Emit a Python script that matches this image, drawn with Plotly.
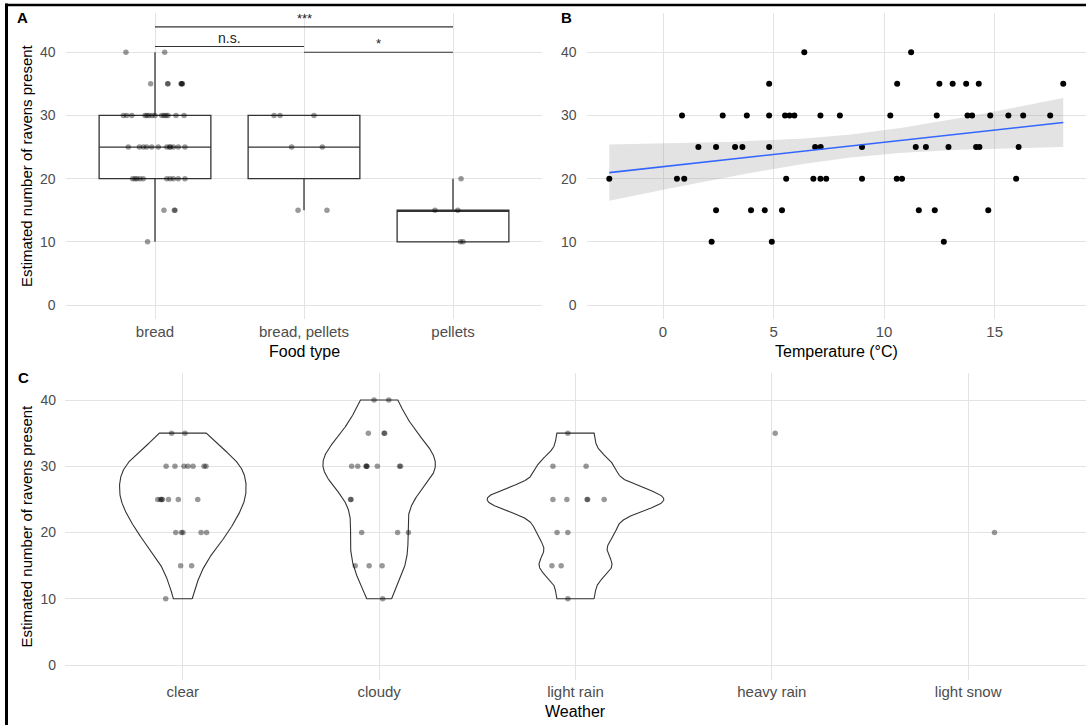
import numpy as np
import plotly.graph_objects as go

W, H = 1086, 725
FONT = "Liberation Sans, Arial, sans-serif"
TICK_GREY = "#4D4D4D"
GRID = "#E3E3E3"
INK = "#333333"
DOT = "rgba(0,0,0,0.4)"

# ---------------- Panel A: ravens counted per food type ----------------
food_types = ["bread", "bread, pellets", "pellets"]

bread_counts = [40, 40,
                35, 35, 35, 35, 35, 35, 35,
                30, 30, 30, 30, 30, 30, 30, 30, 30, 30, 30, 30, 30, 30,
                25, 25, 25, 25, 25, 25, 25, 25, 25, 25, 25, 25,
                20, 20, 20, 20, 20, 20, 20, 20, 20, 20,
                15, 15, 15,
                10]
bread_jitter = [-0.195, 0.065,
                -0.029, 0.085, 0.087, 0.175, 0.178, 0.181, 0.184,
                -0.212, -0.190, -0.156, -0.067, -0.054, -0.040, -0.020, 0.000,
                0.045, 0.060, 0.074, 0.087, 0.141, 0.195,
                -0.179, -0.105, -0.078, -0.056, -0.022, 0.022, 0.079, 0.098,
                0.103, 0.123, 0.156, 0.201,
                -0.150, -0.134, -0.121, -0.101, -0.079, 0.079, 0.101, 0.123,
                0.156, 0.201,
                0.060, 0.130, 0.134,
                -0.050]

mixed_counts = [30, 30, 30, 25, 25, 15, 15]
mixed_jitter = [-0.201, -0.161, 0.067, -0.083, 0.123, -0.040, 0.154]

pellet_counts = [20, 15, 15, 10, 10]
pellet_jitter = [0.054, -0.121, 0.032, 0.050, 0.067]

# significance brackets: (from group, to group, height, label)
sig_pairs = [(1, 2, 40.9, "n.s."), (1, 3, 44.0, "***"), (2, 3, 40.0, "*")]

# ---------------- Panel B: ravens counted vs temperature ----------------
temperature = [6.39, 11.22,
               4.80, 10.59, 12.50, 13.10, 13.71, 14.28, 18.10,
               0.86, 2.70, 3.79, 4.80, 5.52, 5.72, 5.94, 7.12, 8.00, 10.28,
               12.38, 13.77, 13.98, 14.80, 15.62, 16.29, 17.51,
               1.60, 2.40, 3.26, 3.59, 4.80, 6.88, 7.13, 9.00, 11.43, 11.89,
               12.91, 14.16, 14.31, 16.08,
               -2.43, 0.63, 0.96, 5.57, 6.80, 7.12, 7.38, 9.00, 10.57, 10.81, 15.97,
               2.40, 3.98, 4.60, 5.38, 11.57, 12.29, 14.71,
               2.20, 4.92, 12.70]
temp_counts = [40, 40,
               35, 35, 35, 35, 35, 35, 35,
               30, 30, 30, 30, 30, 30, 30, 30, 30, 30,
               30, 30, 30, 30, 30, 30, 30,
               25, 25, 25, 25, 25, 25, 25, 25, 25, 25,
               25, 25, 25, 25,
               20, 20, 20, 20, 20, 20, 20, 20, 20, 20, 20,
               15, 15, 15, 15, 15, 15, 15,
               10, 10, 10]

# ---------------- Panel C: ravens counted per weather ----------------
weather_types = ["clear", "cloudy", "light rain", "heavy rain", "light snow"]

clear_counts = [35, 35,
                30, 30, 30, 30, 30, 30, 30,
                25, 25, 25, 25, 25, 25, 25,
                20, 20, 20, 20, 20,
                15, 15,
                10]
clear_jitter = [-0.057, 0.011,
                -0.085, -0.040, 0.006, 0.026, 0.052, 0.108, 0.118,
                -0.128, -0.114, -0.108, -0.104, -0.073, -0.023, 0.076,
                -0.036, -0.007, 0.001, 0.093, 0.121,
                -0.011, 0.045,
                -0.087]

cloudy_counts = [40, 40,
                 35, 35, 35,
                 30, 30, 30, 30, 30, 30, 30, 30,
                 25, 25,
                 20, 20, 20,
                 15, 15, 15,
                 10]
cloudy_jitter = [-0.026, 0.049,
                 -0.055, 0.025, 0.028,
                 -0.140, -0.109, -0.067, -0.064, -0.062, -0.009, 0.104, 0.109,
                 -0.146, -0.143,
                 -0.089, 0.094, 0.149,
                 -0.122, -0.051, 0.015,
                 0.018]

lightrain_counts = [35, 30, 30, 25, 25, 25, 25, 25, 20, 20, 15, 15, 10]
lightrain_jitter = [-0.039, -0.115, 0.054, -0.115, -0.044, 0.059, 0.062, 0.146,
                    -0.094, -0.039, -0.120, -0.073, -0.039]

heavyrain_counts = [35]
heavyrain_jitter = [0.017]

lightsnow_counts = [20]
lightsnow_jitter = [0.134]


def bw_nrd0(v):
    v = np.asarray(v, float)
    sd = np.std(v, ddof=1)
    q75, q25 = np.percentile(v, [75, 25])
    lo = min(sd, (q75 - q25) / 1.34)
    if lo <= 0:
        lo = sd if sd > 0 else 1.0
    return 0.9 * lo * len(v) ** -0.2


def kde_trimmed(v, n=512):
    v = np.asarray(v, float)
    bw = bw_nrd0(v)
    grid = np.linspace(v.min(), v.max(), n)
    z = (grid[:, None] - v[None, :]) / bw
    dens = np.exp(-0.5 * z ** 2).sum(axis=1) / (len(v) * bw * np.sqrt(2 * np.pi))
    return grid, dens


def box_stats(v):
    v = np.asarray(v, float)
    q1, med, q3 = np.percentile(v, [25, 50, 75])
    iqr = q3 - q1
    lo = v[v >= q1 - 1.5 * iqr].min()
    hi = v[v <= q3 + 1.5 * iqr].max()
    return q1, med, q3, lo, hi


fig = go.Figure()

# ---- Panel A traces ----
food_groups = [(bread_counts, bread_jitter), (mixed_counts, mixed_jitter),
               (pellet_counts, pellet_jitter)]
for i, (vals, jit) in enumerate(food_groups, start=1):
    q1, med, q3, lo, hi = box_stats(vals)
    fig.add_trace(go.Box(
        x=[i], q1=[q1], median=[med], q3=[q3], lowerfence=[lo], upperfence=[hi],
        width=0.75, whiskerwidth=0, boxpoints=False,
        fillcolor="rgba(0,0,0,0)", line=dict(color=INK, width=1.3),
        xaxis="x", yaxis="y", showlegend=False, hoverinfo="skip"))
for i, (vals, jit) in enumerate(food_groups, start=1):
    fig.add_trace(go.Scatter(
        x=[i + j for j in jit], y=vals, mode="markers",
        marker=dict(size=5.5, color=DOT, line=dict(width=0)),
        xaxis="x", yaxis="y", showlegend=False, hoverinfo="skip"))

for g1, g2, yv, label in sig_pairs:
    fig.add_trace(go.Scatter(
        x=[g1, g2], y=[yv, yv], mode="lines", line=dict(color=INK, width=1.1),
        xaxis="x", yaxis="y", showlegend=False, hoverinfo="skip"))
    fig.add_annotation(
        x=(g1 + g2) / 2, y=yv, xref="x", yref="y", text=label, showarrow=False,
        yanchor="bottom", yshift=-1,
        font=dict(family=FONT, size=14 if label == "n.s." else 13, color="#222"))

# ---- Panel B traces ----
tx = np.asarray(temperature, float)
ty = np.asarray(temp_counts, float)
slope, intercept = np.polyfit(tx, ty, 1)
n = len(tx)
resid = ty - (intercept + slope * tx)
s = np.sqrt((resid ** 2).sum() / (n - 2))
sxx = ((tx - tx.mean()) ** 2).sum()
t975 = 2.001  # Student t, 0.975 quantile, n - 2 = 59 degrees of freedom
xfit = np.linspace(tx.min(), tx.max(), 80)
yfit = intercept + slope * xfit
se = s * np.sqrt(1.0 / n + (xfit - tx.mean()) ** 2 / sxx)
upper = yfit + t975 * se
lower = yfit - t975 * se

fig.add_trace(go.Scatter(
    x=np.concatenate([xfit, xfit[::-1]]), y=np.concatenate([upper, lower[::-1]]),
    fill="toself", fillcolor="rgba(153,153,153,0.28)", line=dict(width=0),
    mode="lines", xaxis="x2", yaxis="y2", showlegend=False, hoverinfo="skip"))
fig.add_trace(go.Scatter(
    x=tx, y=ty, mode="markers", marker=dict(size=6, color="black", line=dict(width=0)),
    xaxis="x2", yaxis="y2", showlegend=False, hoverinfo="skip"))
fig.add_trace(go.Scatter(
    x=xfit, y=yfit, mode="lines", line=dict(color="#3366FF", width=1.6),
    xaxis="x2", yaxis="y2", showlegend=False, hoverinfo="skip"))

# ---- Panel C traces ----
weather_groups = [(clear_counts, clear_jitter), (cloudy_counts, cloudy_jitter),
                  (lightrain_counts, lightrain_jitter),
                  (heavyrain_counts, heavyrain_jitter),
                  (lightsnow_counts, lightsnow_jitter)]
densities = []
for vals, _ in weather_groups:
    densities.append(kde_trimmed(vals) if len(vals) > 1 else None)
dmax = max(d[1].max() for d in densities if d is not None)
for i, d in enumerate(densities, start=1):
    if d is None:
        continue
    grid, dens = d
    half = 0.45 * dens / dmax
    xs = np.concatenate([i + half, (i - half)[::-1], [i + half[0]]])
    ys = np.concatenate([grid, grid[::-1], [grid[0]]])
    fig.add_trace(go.Scatter(
        x=xs, y=ys, mode="lines", line=dict(color=INK, width=1.1),
        xaxis="x3", yaxis="y3", showlegend=False, hoverinfo="skip"))
for i, (vals, jit) in enumerate(weather_groups, start=1):
    fig.add_trace(go.Scatter(
        x=[i + j for j in jit], y=vals, mode="markers",
        marker=dict(size=5.5, color=DOT, line=dict(width=0)),
        xaxis="x3", yaxis="y3", showlegend=False, hoverinfo="skip"))

# ---------------- Layout ----------------
def px_x(p):
    return p / W


def px_y(p):
    return 1 - p / H


def axis_style(**kw):
    base = dict(showgrid=True, gridcolor=GRID, gridwidth=1, zeroline=False,
                showline=False, ticks="", ticklabelstandoff=2,
                tickfont=dict(family=FONT, size=14, color=TICK_GREY))
    base.update(kw)
    return base


yA = [px_y(319), px_y(13)]
yC = [px_y(679.6), px_y(373.2)]
ytick = [0, 10, 20, 30, 40]
xtick_font = dict(family=FONT, size=15, color=TICK_GREY)

fig.update_layout(
    width=W, height=H, margin=dict(l=0, r=0, t=0, b=0),
    paper_bgcolor="white", plot_bgcolor="white", showlegend=False,
    xaxis=axis_style(domain=[px_x(65.6), px_x(542.4)], range=[0.4, 3.6],
                     tickvals=[1, 2, 3], ticktext=food_types, anchor="y",
                     tickfont=xtick_font),
    yaxis=axis_style(domain=yA, range=[-2.2, 46.2], tickvals=ytick, anchor="x",
                     ticklabelstandoff=9),
    xaxis2=axis_style(domain=[px_x(586.5), 1.0], range=[-3.46, 19.13],
                      tickvals=[0, 5, 10, 15], anchor="y2", tickfont=xtick_font),
    yaxis2=axis_style(domain=yA, range=[-2.2, 46.2], tickvals=ytick, anchor="x2",
                      ticklabelstandoff=9),
    xaxis3=axis_style(domain=[px_x(65), 1.0], range=[0.4, 5.6],
                      tickvals=[1, 2, 3, 4, 5], ticktext=weather_types, anchor="y3",
                      tickfont=xtick_font, ticklabelstandoff=1),
    yaxis3=axis_style(domain=yC, range=[-2.2, 44.05], tickvals=ytick, anchor="x3",
                      ticklabelstandoff=8),
)

title_font = dict(family=FONT, size=16, color="black")
for text, xp, yp in [("Food type", 304, 352), ("Temperature (°C)", 836, 352),
                     ("Weather", 575, 711.5)]:
    fig.add_annotation(x=px_x(xp), y=px_y(yp), xref="paper", yref="paper", text=text,
                       showarrow=False, xanchor="center", yanchor="middle",
                       font=title_font)
for yp in [166, 526.5]:
    fig.add_annotation(x=px_x(26), y=px_y(yp), xref="paper", yref="paper",
                       text="Estimated number of ravens present", textangle=-90,
                       showarrow=False, xanchor="center", yanchor="middle",
                       font=dict(family=FONT, size=15, color="black"))
for text, xp, yp in [("A", 22, 17), ("B", 566, 18), ("C", 23, 377)]:
    fig.add_annotation(x=px_x(xp), y=px_y(yp), xref="paper", yref="paper",
                       text=f"<b>{text}</b>", showarrow=False, xanchor="center",
                       yanchor="middle", font=dict(family=FONT, size=15, color="black"))

# frame lines along the left and top edges
fig.add_shape(type="line", xref="paper", yref="paper", x0=px_x(6.5), x1=px_x(6.5),
              y0=0, y1=px_y(3.5), line=dict(color="black", width=3))
fig.add_shape(type="line", xref="paper", yref="paper", x0=px_x(5), x1=1,
              y0=px_y(5), y1=px_y(5), line=dict(color="black", width=2.5))

fig.write_html("out.html")
